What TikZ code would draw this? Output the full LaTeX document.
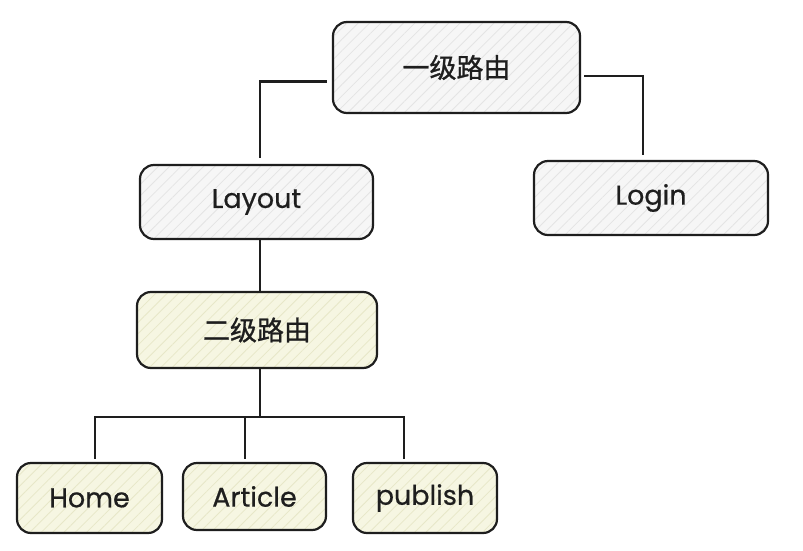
\documentclass[tikz,border=0pt]{standalone}
\usepackage{fontspec}
\setmainfont{Poppins}[FakeBold=0.6]
\newfontfamily\cjk{Noto Sans CJK SC}[FakeBold=1]
\usetikzlibrary{patterns.meta}
\definecolor{ink}{HTML}{1E1E1E}
\definecolor{grayfill}{HTML}{F6F6F6}
\definecolor{grayhatch}{HTML}{E4E4E4}
\definecolor{yelfill}{HTML}{F6F6E2}
\definecolor{yelhatch}{HTML}{E7E7C8}
\tikzset{
  box/.style={draw=ink, line width=2.2pt, rounded corners=14pt, text=ink,
    font=\fontsize{27}{30}\selectfont, inner sep=0pt},
  graybox/.style={box, preaction={fill=grayfill},
    preaction={pattern={Lines[angle=45,distance=8pt,line width=0.8pt]}, pattern color=grayhatch}},
  yelbox/.style={box, preaction={fill=yelfill},
    preaction={pattern={Lines[angle=45,distance=8pt,line width=0.8pt]}, pattern color=yelhatch}},
  link/.style={draw=ink, line width=2.4pt},
  cn/.style={font=\cjk\fontsize{27}{30}\selectfont}
}
\begin{document}
\begin{tikzpicture}[x=1pt,y=-1pt]
\useasboundingbox (0,0) rectangle (803,551);
\node[graybox, cn, minimum width=247pt, minimum height=91pt] (L1) at (456.5,67.5) {一级路由};
\node[graybox, minimum width=233pt, minimum height=74pt] (Layout) at (256.5,202) {Layout};
\node[graybox, minimum width=234pt, minimum height=74pt] (Login) at (651,198) {Login};
\node[yelbox, cn, minimum width=240pt, minimum height=76pt] (L2) at (257,330) {二级路由};
\node[yelbox, minimum width=145pt, minimum height=70pt] (Home) at (89.5,498) {Home};
\node[yelbox, minimum width=143pt, minimum height=67pt] (Article) at (254.5,496.5) {Article};
\node[yelbox, minimum width=144pt, minimum height=70pt] (publish) at (425,498) {publish};
\coordinate (J) at (260,417);
\coordinate (AT) at ([xshift=-9.5pt]Article.north);
\draw[link, shorten <=5pt, shorten >=6pt] ([yshift=-14pt]L1.west) -| ([xshift=3.5pt]Layout.north);
\draw[link, shorten <=3pt, shorten >=5pt] ([yshift=-8.5pt]L1.east) -| ([xshift=-8pt]Login.north);
\draw[link] ([xshift=3.5pt]Layout.south) -- ([xshift=3pt]L2.north);
\draw[link] ([xshift=3pt]L2.south) -- (J);
\draw[link, shorten >=3pt] (J) -| ([xshift=5.5pt]Home.north);
\draw[link, shorten >=3pt] (J) -| ([xshift=-21pt]publish.north);
\draw[link, shorten >=3pt] (J -| AT) -- (AT);
\end{tikzpicture}
\end{document}
